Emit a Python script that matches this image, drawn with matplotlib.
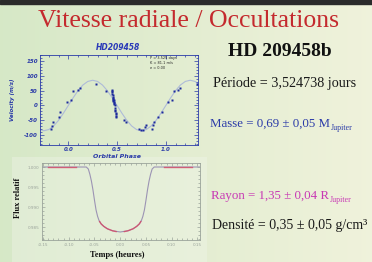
import numpy as np
import matplotlib
matplotlib.use("Agg")
import matplotlib.pyplot as plt
from matplotlib.patches import Rectangle
from matplotlib.ticker import MultipleLocator, FixedLocator

# ---------------- data ----------------
# radial velocity observations (orbital phase, m/s)
obs_phase = [-0.18, -0.17, -0.16, -0.10, -0.08, -0.01, 0.03, 0.05, 0.10, 0.12,
             0.28, 0.39,
             0.445, 0.447, 0.450, 0.452, 0.455, 0.456, 0.458, 0.460, 0.461, 0.462,
             0.465, 0.467, 0.470, 0.472, 0.475, 0.477, 0.480, 0.482, 0.485, 0.488,
             0.490, 0.493,
             0.57, 0.59, 0.73, 0.75, 0.77, 0.79, 0.80, 0.86, 0.87, 0.88, 0.92, 0.96,
             1.02, 1.06, 1.08, 1.13, 1.15, 1.32]
obs_v = [-78, -70, -56, -39, -22, 11, 19, 50, 52, 58,
         74, 48,
         48, 52, 44, 40, 35, 30, 25, 20, 15, 22,
         10, 5, 18, 12, 0, -8, -15, -20, -30, -35,
         -25, -40,
         -50, -56, -78, -81, -83, -74, -67, -78, -67, -56, -39, -22,
         11, 19, 50, 53, 59, 74]
# orbital fit curve
curve_phase = [-0.30, -0.25, -0.20, -0.15, -0.10, -0.05, 0.00, 0.05, 0.10, 0.15,
               0.20, 0.25, 0.30, 0.35, 0.40, 0.45, 0.50, 0.55, 0.60, 0.65,
               0.70, 0.75, 0.80, 0.85, 0.90, 0.95, 1.00, 1.05, 1.10, 1.15,
               1.20, 1.25, 1.30, 1.35]
curve_v = [-81, -85, -81, -69, -50, -26, 0, 26, 50, 69,
           81, 85, 81, 69, 50, 26, 0, -26, -50, -69,
           -81, -85, -81, -69, -50, -26, 0, 26, 50, 69,
           81, 85, 81, 69]
rv_xticks = [0.0, 0.5, 1.0]
rv_xlabels = ["0.0", "0.5", "1.0"]
rv_yticks = [150, 100, 50, 0, -50, -100]
rv_ylabels = ["150", "100", "50", "0", "-50", "-100"]

# transit light curve model (time, relative flux)
lc_t = [-0.160, -0.066, -0.062, -0.059, -0.056, -0.053, -0.050, -0.047, -0.044,
        -0.041, -0.037, -0.032, -0.025, -0.015, 0.000, 0.015, 0.025, 0.032,
        0.037, 0.041, 0.044, 0.047, 0.050, 0.053, 0.056, 0.059, 0.062, 0.066, 0.160]
lc_f = [1.0000, 1.0000, 0.9995, 0.9982, 0.9965, 0.9943, 0.9917, 0.9893, 0.9877,
        0.9866, 0.9858, 0.9852, 0.9846, 0.9841, 0.9838, 0.9841, 0.9846, 0.9852,
        0.9858, 0.9866, 0.9877, 0.9893, 0.9917, 0.9943, 0.9965, 0.9982, 0.9995, 1.0000, 1.0000]
# observed points (red band)
red_left_t = [-0.140, -0.085]
red_left_f = [1.0000, 1.0000]
red_right_t = [0.085, 0.140]
red_right_f = [1.0000, 1.0000]
red_bl_t = [-0.040, -0.037, -0.032, -0.025, -0.015, -0.008]
red_bl_f = [0.9864, 0.9858, 0.9852, 0.9846, 0.9841, 0.9839]
red_br_t = [0.008, 0.015, 0.025, 0.032, 0.037, 0.040]
red_br_f = [0.9839, 0.9841, 0.9846, 0.9852, 0.9858, 0.9864]
lc_xticks = [-0.15, -0.10, -0.05, 0.00, 0.05, 0.10, 0.15]
lc_xlabels = ["-0.15", "-0.10", "-0.05", "0.00", "0.05", "0.10", "0.15"]
lc_yticks = [1.000, 0.995, 0.990, 0.985]
lc_ylabels = ["1.000", "0.995", "0.990", "0.985"]

# ---------------- figure ----------------
W, H = 372, 262
fig = plt.figure(figsize=(W / 100, H / 100), dpi=100)

def P(x, y):
    return x / W, 1 - y / H

bg = fig.add_axes([0, 0, 1, 1], zorder=-10)
g = np.linspace(0, 1, 256)
c0 = np.array([0.84, 0.91, 0.78])
c1 = np.array([0.94, 0.95, 0.86])
img = c0[None, None, :] * (1 - g[None, :, None]) + c1[None, None, :] * g[None, :, None]
bg.imshow(img, aspect='auto', extent=[0, 1, 0, 1])
bg.add_patch(Rectangle((0, 1 - 4 / H), 1, 4 / H, color='#2b2b2b', transform=bg.transAxes))
bg.add_patch(Rectangle((12 / W, 0), 195 / W, 105 / H, color='#f2f6ee', alpha=0.35,
                       transform=bg.transAxes, lw=0))
bg.set_xlim(0, 1); bg.set_ylim(0, 1)
bg.axis('off')

serif = 'Liberation Serif'
fig.text(*P(189, 21), "Vitesse radiale / Occultations", fontsize=18.5, family=serif,
         color='#c42a2e', ha='center', va='center')
fig.text(*P(280, 52), "HD 209458b", fontsize=14, family=serif, weight='bold',
         color='#111111', ha='center', va='center')
fig.text(*P(285, 84), "Période = 3,524738 jours", fontsize=10.2, family=serif,
         color='#1a1a1a', ha='center', va='center')
fig.text(*P(212, 225), "Densité = 0,35 ± 0,05 g/cm³", fontsize=10, family=serif,
         color='#1a1a1a', ha='left', va='center')

renderer = fig.canvas.get_renderer()

def sub_text(x, y, main, sub, color):
    t = fig.text(*P(x, y), main, fontsize=9.3, family=serif, color=color,
                 ha='left', va='baseline')
    bb = t.get_window_extent(renderer=renderer)
    fig.text(bb.x1 / W + 0.5 / W, (bb.y0 - 1.5) / H, sub, fontsize=5.7,
             family=serif, color=color, ha='left', va='bottom')

sub_text(210, 127, "Masse = 0,69 ± 0,05 M", "Jupiter", '#2a3aa8')
sub_text(211, 199, "Rayon = 1,35 ± 0,04 R", "Jupiter", '#c838b4')

# ---------------- radial velocity panel ----------------
blue = '#2a3aa8'
ax1 = fig.add_axes([40 / W, 1 - 145 / H, 158 / W, 90 / H])
ax1.patch.set_alpha(0)
ax1.plot(curve_phase, curve_v, color='#aebbd8', lw=0.8, zorder=1)
ax1.plot(obs_phase, obs_v, 's', ms=1.7, color='#1c2a9c', mec='none', zorder=2)
ax1.set_xlim(-0.29, 1.33)
ax1.set_ylim(-133, 170)
ax1.xaxis.set_major_locator(FixedLocator(rv_xticks))
ax1.set_xticklabels(rv_xlabels)
ax1.yaxis.set_major_locator(FixedLocator(rv_yticks))
ax1.set_yticklabels(rv_ylabels)
ax1.xaxis.set_minor_locator(MultipleLocator(0.1))
ax1.yaxis.set_minor_locator(MultipleLocator(10))
ax1.tick_params(which='both', direction='in', top=True, right=True, colors=blue,
                width=0.5, labelsize=4, pad=1.5)
ax1.tick_params(which='major', length=3)
ax1.tick_params(which='minor', length=1.5)
for lbl in ax1.get_xticklabels() + ax1.get_yticklabels():
    lbl.set_fontstyle('italic'); lbl.set_fontweight('bold')
for s in ax1.spines.values():
    s.set_color(blue); s.set_linewidth(0.6)
fig.text(*P(118, 47), "HD209458", fontsize=5.5, style='italic', weight='bold',
         color='#2a3ab8', ha='center', va='center')
fig.text(*P(117, 157), "Orbital Phase", fontsize=4.5, style='italic', weight='bold',
         color=blue, ha='center', va='center')
fig.text(*P(13, 100), "Velocity (m/s)", fontsize=4, style='italic', weight='bold',
         color=blue, ha='center', va='center', rotation=90)
fig.text(*P(150, 63), "P = 3.525 days\nK = 81.1 m/s\ne = 0.00", fontsize=2.5,
         color='#222222', ha='left', va='center', linespacing=1.3)

# ---------------- light curve panel ----------------
gray = '#9aa39a'
ax2 = fig.add_axes([42 / W, 1 - 240 / H, 158 / W, 77 / H])
ax2.patch.set_alpha(0)
ax2.plot(lc_t, lc_f, color='#9c94b4', lw=0.8, zorder=1)
for tt, ff in [(red_left_t, red_left_f), (red_right_t, red_right_f),
               (red_bl_t, red_bl_f), (red_br_t, red_br_f)]:
    ax2.plot(tt, ff, color='#d8405e', lw=1.0, alpha=0.75, zorder=2)
ax2.set_xlim(-0.152, 0.155)
ax2.set_ylim(0.9818, 1.001)
ax2.xaxis.set_major_locator(FixedLocator(lc_xticks))
ax2.set_xticklabels(lc_xlabels)
ax2.yaxis.set_major_locator(FixedLocator(lc_yticks))
ax2.set_yticklabels(lc_ylabels)
ax2.xaxis.set_minor_locator(MultipleLocator(0.01))
ax2.yaxis.set_minor_locator(MultipleLocator(0.001))
ax2.tick_params(which='both', direction='in', top=True, right=True, colors=gray,
                width=0.5, labelsize=3, pad=2)
ax2.tick_params(which='major', length=2.5)
ax2.tick_params(which='minor', length=1.2)
for s in ax2.spines.values():
    s.set_color(gray); s.set_linewidth(0.6)
fig.text(*P(117, 255), "Temps (heures)", fontsize=6, family=serif, weight='bold',
         color='#111111', ha='center', va='center')
fig.text(*P(18, 198), "Flux relatif", fontsize=6, family=serif, weight='bold',
         color='#111111', ha='center', va='center', rotation=90)

fig.savefig("out.png", dpi=100)
